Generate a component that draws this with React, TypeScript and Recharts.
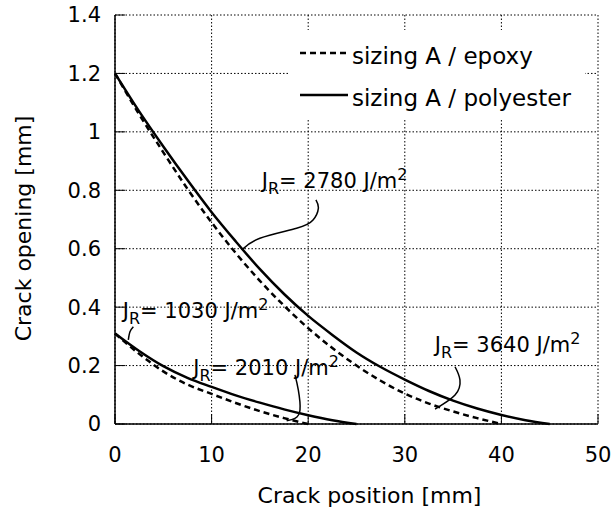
import React from 'react';
import { LineChart, Line, XAxis, YAxis, CartesianGrid, Legend, ReferenceDot } from 'recharts';

const xTicks = [0, 10, 20, 30, 40, 50];
const yTicks = [0, 0.2, 0.4, 0.6, 0.8, 1, 1.2, 1.4];

// crack positions [mm]
const positions = [0, 2.5, 5, 7.5, 10, 12.5, 15, 17.5, 20, 22.5, 25, 27.5, 30, 32.5, 35, 37.5, 40, 42.5, 45];

// crack opening [mm]
const polyesterUpper = [1.2, 1.07, 0.95, 0.835, 0.725, 0.625, 0.53, 0.445, 0.37, 0.305, 0.245, 0.195, 0.152, 0.113, 0.08, 0.053, 0.031, 0.013, 0];
const epoxyUpper = [1.2, 1.06, 0.93, 0.805, 0.69, 0.585, 0.49, 0.405, 0.328, 0.26, 0.2, 0.148, 0.104, 0.07, 0.043, 0.02, 0];
const polyesterLower = [0.31, 0.25, 0.198, 0.158, 0.127, 0.098, 0.073, 0.05, 0.03, 0.013, 0];
const epoxyLower = [0.31, 0.24, 0.18, 0.135, 0.103, 0.072, 0.044, 0.02, 0];

const seriesNames = ['sizing A / epoxy', 'sizing A / polyester'];

// J_R annotations: text anchor (x, y) in data units
const annotations = [
  { x: 15.19, y: 0.807, value: '2780' },
  { x: 0.8, y: 0.362, value: '1030' },
  { x: 8.1, y: 0.168, value: '2010' },
  { x: 33.1, y: 0.248, value: '3640' },
];

// leader curves from label to curve, in data units
const leader2780 = [
  { x: 13.12, y: 0.596 },
  { x: 15.0, y: 0.636 },
  { x: 18.8, y: 0.67 },
  { x: 20.5, y: 0.698 },
  { x: 21.05, y: 0.738 },
  { x: 20.8, y: 0.767 },
];
const leader1030 = [
  { x: 1.38, y: 0.288 },
  { x: 1.55, y: 0.316 },
  { x: 1.9, y: 0.333 },
];
const leader2010 = [
  { x: 18.63, y: 0.168 },
  { x: 18.98, y: 0.116 },
  { x: 19.15, y: 0.048 },
  { x: 18.63, y: 0.0195 },
  { x: 17.77, y: 0.011 },
];
const leader3640 = [
  { x: 35.2, y: 0.196 },
  { x: 35.71, y: 0.151 },
  { x: 35.2, y: 0.099 },
  { x: 33.13, y: 0.051 },
];

const toPoints = (xs: number[], ys: number[]) => ys.map((y, i) => ({ x: xs[i], y }));

const FONT = 'DejaVu Sans, sans-serif';

const JLabel = (props: any) => {
  const { viewBox, value } = props;
  const x = viewBox.x + viewBox.width / 2;
  const y = viewBox.y + viewBox.height / 2;
  return (
    <text x={x} y={y} fontSize={21} fontFamily={FONT} fill="#000">
      <tspan>J</tspan>
      <tspan fontSize={16} dy={6}>R</tspan>
      <tspan dy={-6}>{`= ${value} J/m`}</tspan>
      <tspan fontSize={16} dy={-8}>2</tspan>
    </text>
  );
};

const renderLegend = () => (
  <svg width={295} height={88} style={{ display: 'block' }}>
    {seriesNames.map((name, i) => (
      <g key={name}>
        <line
          x1={10}
          x2={58}
          y1={23 + i * 42}
          y2={23 + i * 42}
          stroke="#000"
          strokeWidth={2.5}
          strokeDasharray={i === 0 ? '6 4' : undefined}
        />
        <text x={62} y={34 + i * 42} fontSize={23} fontFamily={FONT} fill="#000">
          {name}
        </text>
      </g>
    ))}
  </svg>
);

const YLabel = (props: any) => {
  const { viewBox } = props;
  const cx = viewBox.x + 31;
  const cy = viewBox.y + viewBox.height / 2 + 9;
  return (
    <text
      x={cx}
      y={cy}
      transform={`rotate(-90, ${cx}, ${cy})`}
      textAnchor="middle"
      fontSize={22}
      fontFamily={FONT}
      fill="#000"
    >
      Crack opening [mm]
    </text>
  );
};

export default function App() {
  const tickStyle = { fontSize: 21, fontFamily: FONT, fill: '#000' };
  const leaders = [leader2780, leader1030, leader2010, leader3640];
  return (
    <div style={{ position: 'absolute', left: 0, top: 0, background: '#fff' }}>
      <LineChart width={612} height={515} margin={{ top: 15, right: 14, left: 0, bottom: 0 }}>
        <CartesianGrid stroke="#000" strokeWidth={1} strokeDasharray="1.5 2" />
        <XAxis
          dataKey="x"
          type="number"
          domain={[0, 50]}
          ticks={xTicks}
          height={91}
          tickSize={-10}
          tickMargin={33}
          tick={tickStyle}
          axisLine={{ stroke: '#000', strokeWidth: 1.5 }}
          tickLine={{ stroke: '#000', strokeWidth: 1 }}
          label={{ value: 'Crack position [mm]', position: 'insideBottom', offset: 12, dx: 13, fontSize: 22, fontFamily: FONT, fill: '#000' }}
        />
        <XAxis
          xAxisId="top"
          orientation="top"
          dataKey="x"
          type="number"
          domain={[0, 50]}
          ticks={xTicks}
          height={0}
          tickSize={-10}
          tickFormatter={() => ''}
          axisLine={{ stroke: '#000', strokeWidth: 1.5 }}
          tickLine={{ stroke: '#000', strokeWidth: 1 }}
        />
        <YAxis
          type="number"
          domain={[0, 1.4]}
          ticks={yTicks}
          width={115}
          tickSize={-10}
          tickMargin={24}
          tick={tickStyle}
          tickFormatter={(v: number) => String(v)}
          axisLine={{ stroke: '#000', strokeWidth: 1.5 }}
          tickLine={{ stroke: '#000', strokeWidth: 1 }}
          label={{ content: YLabel }}
        />
        <YAxis
          yAxisId="right"
          orientation="right"
          type="number"
          domain={[0, 1.4]}
          ticks={yTicks}
          width={0}
          tickSize={-10}
          tickFormatter={() => ''}
          axisLine={{ stroke: '#000', strokeWidth: 1.5 }}
          tickLine={{ stroke: '#000', strokeWidth: 1 }}
        />
        <Legend
          layout="vertical"
          align="center"
          verticalAlign="middle"
          content={renderLegend}
          wrapperStyle={{ position: 'absolute', left: 290, top: 30, width: 295, height: 88, backgroundColor: '#fff' }}
        />
        <Line data={toPoints(positions, epoxyUpper)} dataKey="y" name={seriesNames[0]} type="monotone" stroke="#000" strokeWidth={2.5} strokeDasharray="6 4" dot={false} isAnimationActive={false} />
        <Line data={toPoints(positions, polyesterUpper)} dataKey="y" name={seriesNames[1]} type="monotone" stroke="#000" strokeWidth={2.5} dot={false} isAnimationActive={false} />
        <Line data={toPoints(positions, epoxyLower)} dataKey="y" name="epoxy-lower" type="monotone" stroke="#000" strokeWidth={2.5} strokeDasharray="6 4" dot={false} isAnimationActive={false} legendType="none" />
        <Line data={toPoints(positions, polyesterLower)} dataKey="y" name="polyester-lower" type="monotone" stroke="#000" strokeWidth={2.5} dot={false} isAnimationActive={false} legendType="none" />
        {leaders.map((pts, i) => (
          <Line key={`leader-${i}`} data={pts} dataKey="y" type="natural" stroke="#000" strokeWidth={1.5} dot={false} isAnimationActive={false} legendType="none" />
        ))}
        {annotations.map((a) => (
          <ReferenceDot
            key={a.value}
            x={a.x}
            y={a.y}
            r={0}
            fill="none"
            stroke="none"
            label={(p: any) => <JLabel {...p} value={a.value} />}
          />
        ))}
      </LineChart>
    </div>
  );
}
